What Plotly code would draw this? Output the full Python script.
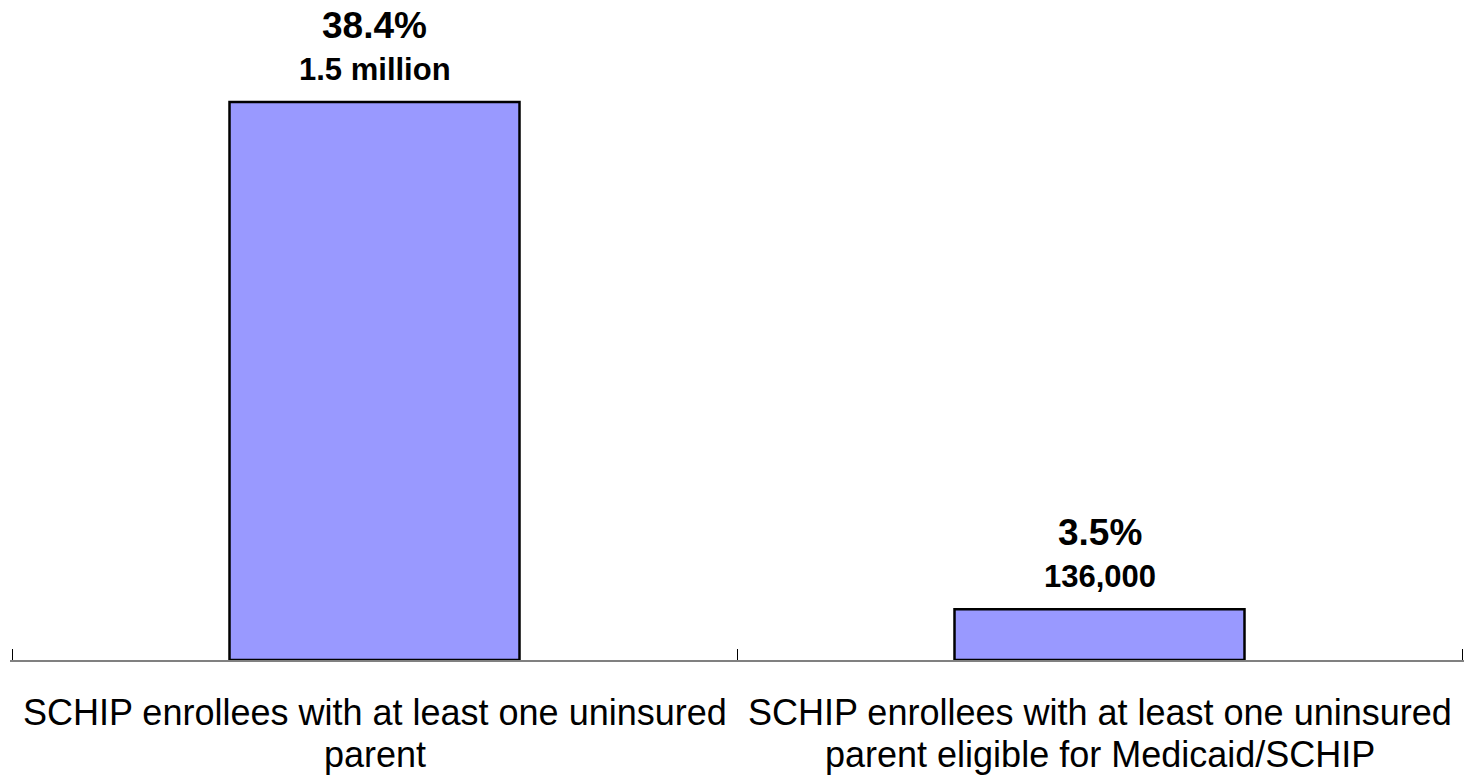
import plotly.graph_objects as go

categories = ["cat1", "cat2"]
category_lines = [
    ["SCHIP enrollees with at least one uninsured", "parent"],
    ["SCHIP enrollees with at least one uninsured", "parent eligible for Medicaid/SCHIP"],
]
percent_values = [38.4, 3.5]
percent_labels = ["38.4%", "3.5%"]
count_labels = ["1.5 million", "136,000"]

FONT = "Arial, Liberation Sans, sans-serif"

xpos = list(range(len(categories)))
boundaries = [i - 0.5 for i in range(len(categories) + 1)]

fig = go.Figure()
fig.add_trace(go.Bar(
    x=xpos,
    y=percent_values,
    width=0.4,
    marker=dict(color="#9999FF", line=dict(color="black", width=2.5)),
    hoverinfo="skip",
))

annotations = []
for xi, val, p, c in zip(xpos, percent_values, percent_labels, count_labels):
    annotations.append(dict(x=xi, y=val, xref="x", yref="y", text="<b>%s</b>" % p,
                            showarrow=False, yanchor="middle", yshift=77,
                            font=dict(family=FONT, size=37, color="black")))
    annotations.append(dict(x=xi, y=val, xref="x", yref="y", text="<b>%s</b>" % c,
                            showarrow=False, yanchor="middle", yshift=33,
                            font=dict(family=FONT, size=31, color="black")))
for xi, lines in zip(xpos, category_lines):
    for i, line in enumerate(lines):
        annotations.append(dict(x=xi, y=0, xref="x", yref="paper", text=line,
                                showarrow=False, yanchor="middle", yshift=-52 - 42 * i,
                                font=dict(family=FONT, size=36, color="black")))

fig.update_layout(
    width=1464, height=780,
    margin=dict(l=10, r=0, t=0, b=120),
    paper_bgcolor="white", plot_bgcolor="white",
    showlegend=False,
    annotations=annotations,
    font=dict(family=FONT, color="black"),
)
fig.update_xaxes(
    type="linear", range=[-0.50276, 1.50276],
    tickmode="array", tickvals=boundaries,
    showline=True, linecolor="#808080", linewidth=2,
    ticks="inside", ticklen=11, tickcolor="black", tickwidth=1,
    showticklabels=False, showgrid=False, zeroline=False,
)
fig.update_yaxes(range=[0, 45.42], visible=False, showgrid=False, zeroline=False)

fig.write_html("out.html")
